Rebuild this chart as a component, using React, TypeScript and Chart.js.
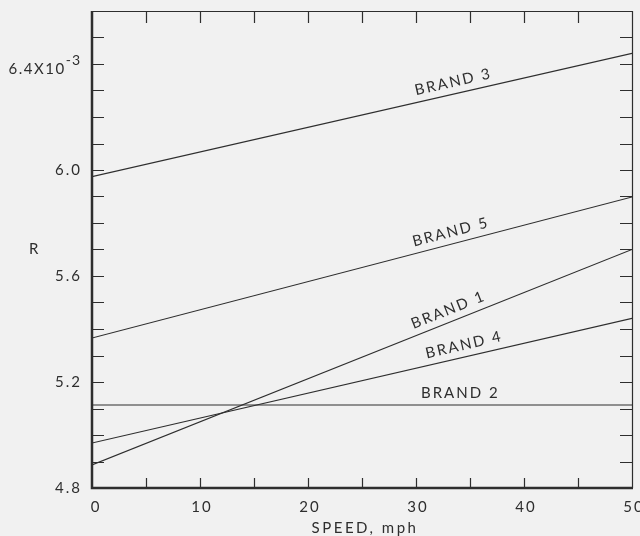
import React, { useEffect, useRef } from 'react';
import { Chart, registerables } from 'chart.js';
Chart.register(...registerables);

const speeds = [0, 50];
const brand1 = [4.887, 5.7];
const brand2 = [5.113, 5.113];
const brand3 = [5.975, 6.44];
const brand4 = [4.97, 5.44];
const brand5 = [5.366, 5.898];

const seriesNames = ['BRAND 1', 'BRAND 2', 'BRAND 3', 'BRAND 4', 'BRAND 5'];
const seriesValues = [brand1, brand2, brand3, brand4, brand5];
// speed at which each brand's label sits along its line
const labelSpeeds = [33.4, 34.1, 33.7, 34.7, 33.5];
const labelFlat = [false, true, false, false, false];

const xLabelValues = [0, 10, 20, 30, 40, 50];
const yLabelValues = [4.8, 5.2, 5.6, 6.0];
const yTopLabelValue = 6.4;
const xTitle = 'SPEED, mph';
const yTitle = 'R';

const INK = '#2e2e2e';
const FONT = 'Lato, "DejaVu Sans", sans-serif';

const framePlugin = {
  id: 'framePlugin',
  beforeDraw(chart: any) {
    const ctx = chart.ctx;
    ctx.save();
    ctx.fillStyle = '#f1f1f1';
    ctx.fillRect(0, 0, chart.width, chart.height);
    ctx.restore();
  },
  afterDraw(chart: any) {
    const ctx = chart.ctx;
    const xs = chart.scales.x;
    const ys = chart.scales.y;
    const { left, right, top, bottom } = chart.chartArea;
    ctx.save();
    ctx.strokeStyle = INK;
    // frame
    ctx.lineWidth = 1.2;
    ctx.beginPath();
    ctx.moveTo(left, top + 0.5);
    ctx.lineTo(right + 0.5, top + 0.5);
    ctx.lineTo(right + 0.5, bottom);
    ctx.stroke();
    ctx.lineWidth = 2.5;
    ctx.beginPath();
    ctx.moveTo(left, top);
    ctx.lineTo(left, bottom);
    ctx.lineTo(right + 1, bottom);
    ctx.stroke();
    // inner ticks
    ctx.lineWidth = 1.2;
    ctx.beginPath();
    for (let v = 5; v < 50; v += 5) {
      const px = Math.round(xs.getPixelForValue(v)) + 0.5;
      ctx.moveTo(px, bottom);
      ctx.lineTo(px, bottom - 10);
      ctx.moveTo(px, top);
      ctx.lineTo(px, top + 12);
    }
    for (let i = 1; i < 18; i++) {
      const v = 4.8 + i * 0.1;
      const py = Math.round(ys.getPixelForValue(v)) + 0.5;
      ctx.moveTo(left, py);
      ctx.lineTo(left + 12, py);
      ctx.moveTo(right, py);
      ctx.lineTo(right - 12, py);
    }
    ctx.stroke();

    // tick labels
    ctx.fillStyle = INK;
    ctx.font = `15px ${FONT}`;
    (ctx as any).letterSpacing = '2px';
    ctx.textBaseline = 'middle';
    ctx.textAlign = 'center';
    xLabelValues.forEach((v) => {
      const px = xs.getPixelForValue(v);
      ctx.fillText(String(v), px + (v === 0 ? 4 : 2), bottom + 19);
    });
    ctx.textAlign = 'right';
    yLabelValues.forEach((v) => {
      ctx.fillText(v.toFixed(1), left - 10, ys.getPixelForValue(v));
    });
    // 6.4X10^-3
    const py64 = ys.getPixelForValue(yTopLabelValue);
    ctx.font = `14px ${FONT}`;
    (ctx as any).letterSpacing = '1px';
    const supW = ctx.measureText('-3').width;
    ctx.textAlign = 'left';
    const supX = left - 11 - supW;
    ctx.fillText('-3', supX, py64 - 4);
    ctx.font = `15px ${FONT}`;
    (ctx as any).letterSpacing = '1.5px';
    ctx.textAlign = 'right';
    ctx.fillText(yTopLabelValue.toFixed(1) + 'X10', supX, py64 + 5);

    // titles
    ctx.textAlign = 'center';
    ctx.font = `15px ${FONT}`;
    (ctx as any).letterSpacing = '2.5px';
    ctx.fillText(xTitle, (left + right) / 2 + 3, bottom + 40);
    ctx.fillText(yTitle, 35, ys.getPixelForValue(5.7));

    // brand labels
    ctx.font = `15px ${FONT}`;
    (ctx as any).letterSpacing = '2px';
    seriesNames.forEach((name, i) => {
      const vals = seriesValues[i];
      const s = labelSpeeds[i];
      const t = (s - speeds[0]) / (speeds[1] - speeds[0]);
      const yv = vals[0] + (vals[1] - vals[0]) * t;
      const px = xs.getPixelForValue(s);
      const py = ys.getPixelForValue(yv);
      const dx = xs.getPixelForValue(speeds[1]) - xs.getPixelForValue(speeds[0]);
      const dy = ys.getPixelForValue(vals[1]) - ys.getPixelForValue(vals[0]);
      const ang = labelFlat[i] ? 0 : Math.atan2(dy, dx);
      ctx.save();
      ctx.translate(px, py);
      ctx.rotate(ang);
      ctx.textAlign = 'center';
      ctx.textBaseline = 'middle';
      ctx.fillText(name, 0, -12);
      ctx.restore();
    });
    ctx.restore();
  },
};

export default function App() {
  const ref = useRef<HTMLCanvasElement | null>(null);
  useEffect(() => {
    if (!ref.current) return;
    const chart = new Chart(ref.current, {
      type: 'line',
      data: {
        datasets: seriesNames.map((name, i) => ({
          label: name,
          data: speeds.map((s, j) => ({ x: s, y: seriesValues[i][j] })),
          borderColor: INK,
          borderWidth: 1.1,
          pointRadius: 0,
          tension: 0,
          fill: false,
        })),
      },
      options: {
        animation: false,
        responsive: false,
        maintainAspectRatio: false,
        devicePixelRatio: 1,
        layout: { padding: { left: 92, right: 8, top: 11, bottom: 48 } },
        plugins: { legend: { display: false }, tooltip: { enabled: false } },
        scales: {
          x: { type: 'linear', min: 0, max: 50, display: false },
          y: { type: 'linear', min: 4.8, max: 6.6, display: false },
        },
      },
      plugins: [framePlugin],
    });
    return () => chart.destroy();
  }, []);
  return (
    <div style={{ position: 'absolute', left: 0, top: 0, width: 640, height: 536 }}>
      <canvas ref={ref} width={640} height={536} style={{ width: 640, height: 536, display: 'block' }} />
    </div>
  );
}
